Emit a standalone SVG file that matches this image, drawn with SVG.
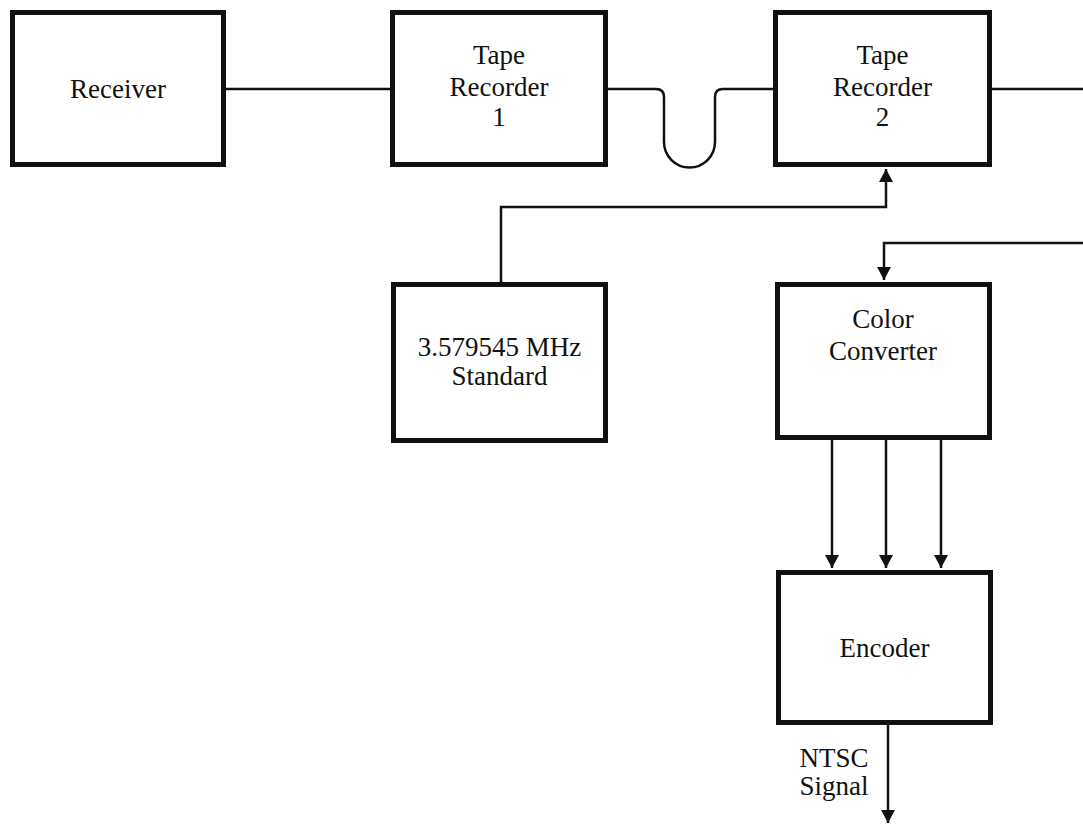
<svg xmlns="http://www.w3.org/2000/svg" width="1083" height="825" viewBox="0 0 1083 825">
<style>
.box{fill:#fff;stroke:#111;stroke-width:5}
.wire{fill:none;stroke:#111;stroke-width:2.5}
.lbl{font-family:"Liberation Serif","Times New Roman",serif;font-size:27px;fill:#111;text-anchor:middle}
</style>
<defs>
<marker id="arr" markerUnits="userSpaceOnUse" markerWidth="14" markerHeight="14" viewBox="0 0 14 14" refX="13" refY="7" orient="auto">
<path d="M0,0 L13,7 L0,14 Z" fill="#111"/>
</marker>
</defs>
<rect width="1083" height="825" fill="#fff"/>
<g id="connectors">
<line class="wire" x1="226" y1="89" x2="391" y2="89"/>
<path class="wire" d="M608,89 H656 Q664,89 664,97 V142 A25.5,25.5 0 0 0 715,142 V97 Q715,89 723,89 H775"/>
<line class="wire" x1="992" y1="89" x2="1083" y2="89"/>
<path class="wire" d="M501,282 V207 H886 V169" marker-end="url(#arr)"/>
<path class="wire" d="M1083,243 H884 V280" marker-end="url(#arr)"/>
<line class="wire" x1="832" y1="440" x2="832" y2="568" marker-end="url(#arr)"/>
<line class="wire" x1="886" y1="440" x2="886" y2="568" marker-end="url(#arr)"/>
<line class="wire" x1="941" y1="440" x2="941" y2="568" marker-end="url(#arr)"/>
<line class="wire" x1="888" y1="725" x2="888" y2="823" marker-end="url(#arr)"/>
<text class="lbl" x="834" y="767">NTSC</text>
<text class="lbl" x="834" y="795">Signal</text>
</g>
<g id="receiver">
<rect class="box" x="12.5" y="12.5" width="211" height="152"/>
<text class="lbl" x="118" y="98">Receiver</text>
</g>
<g id="tape1">
<rect class="box" x="392.5" y="12.5" width="213" height="152"/>
<text class="lbl" x="499" y="64">Tape</text>
<text class="lbl" x="499" y="96">Recorder</text>
<text class="lbl" x="499" y="126">1</text>
</g>
<g id="tape2">
<rect class="box" x="775.5" y="12.5" width="214" height="152"/>
<text class="lbl" x="882.5" y="64">Tape</text>
<text class="lbl" x="882.5" y="96">Recorder</text>
<text class="lbl" x="882.5" y="126">2</text>
</g>
<g id="standard">
<rect class="box" x="393.5" y="284.5" width="212" height="156"/>
<text class="lbl" x="499.5" y="356">3.579545 MHz</text>
<text class="lbl" x="499.5" y="385">Standard</text>
</g>
<g id="converter">
<rect class="box" x="777.5" y="284.5" width="212" height="153"/>
<text class="lbl" x="883" y="328">Color</text>
<text class="lbl" x="883" y="360">Converter</text>
</g>
<g id="encoder">
<rect class="box" x="778.5" y="572.5" width="212" height="150"/>
<text class="lbl" x="884.5" y="657">Encoder</text>
</g>
</svg>
